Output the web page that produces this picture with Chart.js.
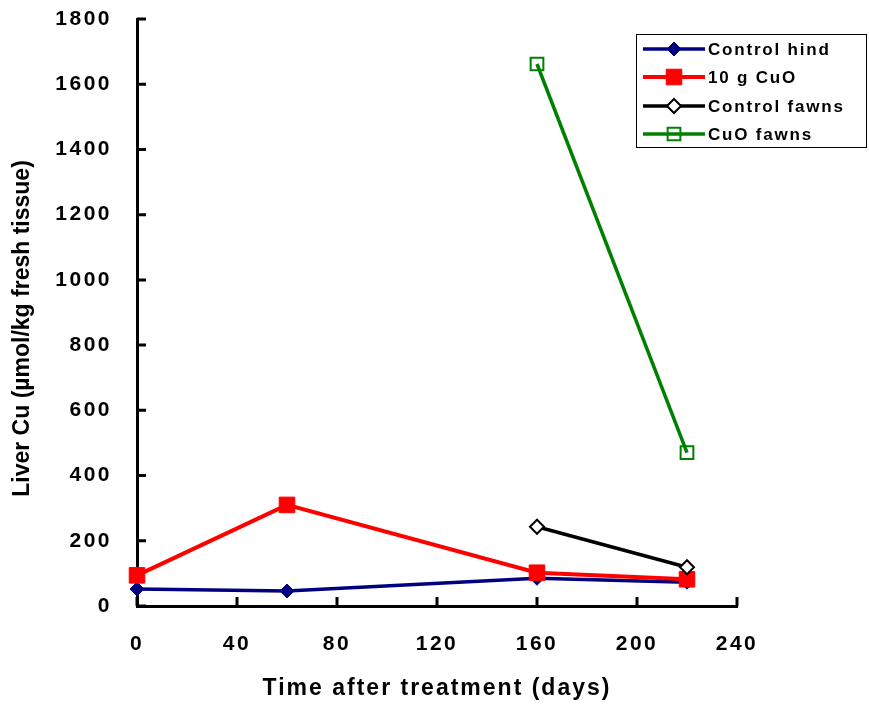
<!DOCTYPE html>
<html>
<head>
<meta charset="utf-8">
<script src="https://cdn.jsdelivr.net/npm/chart.js@4.4.0/dist/chart.umd.min.js"></script>
<style>
  body { margin: 0; background: #fff; }
  #wrap { width: 869px; height: 704px; }
</style>
</head>
<body>
<div id="wrap"><canvas id="chart"></canvas></div>
<script>
// values
var days = [0, 60, 160, 220];
var controlHind = [52, 46, 85, 73];
var cuo10g = [94, 310, 102, 82];
var controlFawns = [null, null, 243, 119];
var cuoFawns = [null, null, 1662, 470];

var xTicks = [0, 40, 80, 120, 160, 200, 240];
var yTicks = [0, 200, 400, 600, 800, 1000, 1200, 1400, 1600, 1800];

var FONT = '"Liberation Sans", Arial, sans-serif';
var titleSpacing = { x: '2px', y: '0px' };

function toPoints(values){
    var pts = [];
    for(var i = 0; i < days.length; i++){
        if(values[i] !== null){
            pts.push({x: days[i], y: values[i]});
        }
    }
    return pts;
}

function setSpacing(chart){
    chart.ctx.letterSpacing = '2.5px';
    // axis titles get their own spacing
    Object.keys(titleSpacing).forEach(function(id){
        var scale = chart.scales && chart.scales[id];
        if(scale && !scale._spaced){
            var orig = scale.drawTitle;
            scale.drawTitle = function(){
                var prev = this.ctx.letterSpacing;
                this.ctx.letterSpacing = titleSpacing[id];
                orig.apply(this, arguments);
                this.ctx.letterSpacing = prev;
            };
            scale._spaced = true;
        }
    });
}

function plainLabel(value){
    return String(value);
}

// tick marks pointing into the plot
var innerTicks = {
    id: 'innerTicks',
    beforeUpdate: setSpacing,
    beforeDraw: setSpacing,
    afterDraw: function(chart){
        var ctx = chart.ctx;
        var xs = chart.scales.x, ys = chart.scales.y;
        var area = chart.chartArea;
        ctx.save();
        ctx.strokeStyle = '#000';
        ctx.lineWidth = 3;
        ctx.beginPath();
        yTicks.forEach(function(v){
            var py = ys.getPixelForValue(v);
            ctx.moveTo(area.left, py);
            ctx.lineTo(area.left + 9, py);
        });
        xTicks.forEach(function(v){
            var px = xs.getPixelForValue(v);
            ctx.moveTo(px, area.bottom);
            ctx.lineTo(px, area.bottom - 9);
        });
        ctx.stroke();
        ctx.restore();
    }
};

// legend box with line + marker like the original
var lineLegend = {
    id: 'lineLegend',
    afterDraw: function(chart){
        var ctx = chart.ctx;
        var box = {x: 636, y: 34, w: 230, h: 113};
        ctx.save();
        ctx.fillStyle = '#fff';
        ctx.fillRect(box.x, box.y, box.w, box.h);
        ctx.strokeStyle = '#000';
        ctx.lineWidth = 1;
        ctx.strokeRect(box.x + 0.5, box.y + 0.5, box.w, box.h);
        ctx.letterSpacing = '1.8px';
        ctx.font = 'bold 17px ' + FONT;
        ctx.textBaseline = 'middle';
        ctx.textAlign = 'left';
        var rows = [49, 77, 106, 134];
        chart.data.datasets.forEach(function(ds, i){
            var y = rows[i];
            ctx.strokeStyle = ds.borderColor;
            ctx.lineWidth = ds.borderWidth;
            ctx.beginPath();
            ctx.moveTo(643, y);
            ctx.lineTo(705, y);
            ctx.stroke();
            ctx.fillStyle = ds.pointBackgroundColor;
            ctx.strokeStyle = ds.pointBorderColor;
            ctx.lineWidth = ds.pointBorderWidth;
            Chart.helpers.drawPoint(ctx, {
                pointStyle: ds.pointStyle,
                radius: ds.pointRadius,
                rotation: 0,
                borderWidth: ds.pointBorderWidth
            }, 674, y);
            ctx.fillStyle = '#000';
            ctx.fillText(ds.label, 708, y + 1);
        });
        ctx.restore();
    }
};

new Chart(document.getElementById('chart'), {
    type: 'line',
    data: {
        datasets: [{
            label: 'Control hind',
            data: toPoints(controlHind),
            borderColor: '#000080',
            borderWidth: 3.5,
            pointStyle: 'rectRot',
            pointRadius: 7,
            pointBackgroundColor: '#000080',
            pointBorderColor: '#000080',
            pointBorderWidth: 1,
            order: 4
        }, {
            label: '10 g CuO',
            data: toPoints(cuo10g),
            borderColor: '#ff0000',
            borderWidth: 4,
            pointStyle: 'rect',
            pointRadius: 11,
            pointBackgroundColor: '#ff0000',
            pointBorderColor: '#ff0000',
            pointBorderWidth: 1,
            order: 3
        }, {
            label: 'Control fawns',
            data: toPoints(controlFawns),
            borderColor: '#000000',
            borderWidth: 3.5,
            pointStyle: 'rectRot',
            pointRadius: 7,
            pointBackgroundColor: '#ffffff',
            pointBorderColor: '#000000',
            pointBorderWidth: 2,
            order: 2
        }, {
            label: 'CuO fawns',
            data: toPoints(cuoFawns),
            borderColor: '#008000',
            borderWidth: 3.5,
            pointStyle: 'rect',
            pointRadius: 9,
            pointBackgroundColor: 'rgba(0,0,0,0)',
            pointBorderColor: '#008000',
            pointBorderWidth: 2,
            order: 1
        }]
    },
    options: {
        responsive: true,
        maintainAspectRatio: false,
        animation: false,
        clip: false,
        layout: { padding: { top: 19, right: 132, left: 0, bottom: 0 } },
        plugins: {
            legend: { display: false },
            tooltip: { enabled: false }
        },
        elements: { line: { tension: 0 } },
        scales: {
            x: {
                type: 'linear',
                min: 0,
                max: 240,
                afterBuildTicks: function(scale){
                    scale.ticks = xTicks.map(function(v){ return {value: v}; });
                },
                afterFit: function(scale){
                    scale.height = 98;
                    scale.paddingLeft = 0;
                    scale.paddingRight = 0;
                },
                grid: { display: false, drawTicks: false },
                border: { display: true, color: '#000', width: 3 },
                ticks: {
                    color: '#000',
                    padding: 26,
                    maxRotation: 0,
                    callback: plainLabel,
                    font: { family: FONT, size: 21, weight: 'bold' }
                },
                title: {
                    display: true,
                    text: 'Time after treatment (days)',
                    color: '#000',
                    padding: { top: 0, bottom: 2 },
                    font: { family: FONT, size: 23, weight: 'bold' }
                }
            },
            y: {
                min: 0,
                max: 1800,
                afterBuildTicks: function(scale){
                    scale.ticks = yTicks.map(function(v){ return {value: v}; });
                },
                afterFit: function(scale){
                    scale.width = 137;
                    scale.paddingTop = 0;
                    scale.paddingBottom = 0;
                },
                grid: { display: false, drawTicks: false },
                border: { display: true, color: '#000', width: 3 },
                ticks: {
                    color: '#000',
                    padding: 25,
                    callback: plainLabel,
                    font: { family: FONT, size: 21, weight: 'bold' }
                },
                title: {
                    display: true,
                    // trailing spaces push the title down, as in the original
                    text: 'Liver Cu (µmol/kg fresh tissue)\u00a0\u00a0\u00a0\u00a0\u00a0',
                    color: '#000',
                    padding: { top: 9, bottom: 0 },
                    font: { family: FONT, size: 23, weight: 'bold' }
                }
            }
        }
    },
    plugins: [innerTicks, lineLegend]
});
</script>
</body>
</html>
